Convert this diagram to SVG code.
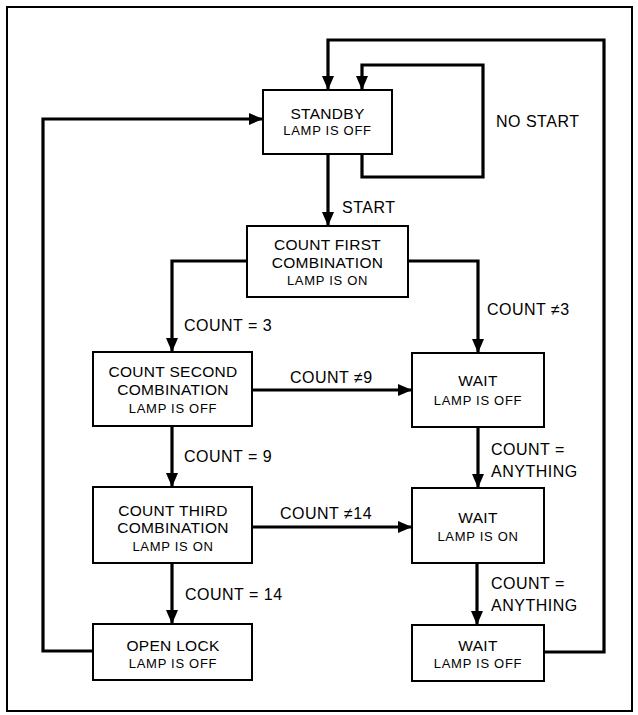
<svg xmlns="http://www.w3.org/2000/svg" width="638" height="715" viewBox="0 0 638 715">
<style>
.box{fill:#fff;stroke:#000;stroke-width:2}
.c{fill:none;stroke:#000;stroke-width:3.2;stroke-linejoin:miter}
.t{font-family:"Liberation Sans",Arial,sans-serif;font-size:15.5px;fill:#000;text-anchor:middle;letter-spacing:0.3px}
.s{font-family:"Liberation Sans",Arial,sans-serif;font-size:13px;fill:#000;text-anchor:middle;letter-spacing:0.7px}
.l{font-family:"Liberation Sans",Arial,sans-serif;font-size:16px;fill:#000;letter-spacing:0.5px}
</style>
<defs>
<marker id="a" markerUnits="userSpaceOnUse" markerWidth="14" markerHeight="12" refX="14" refY="6" orient="auto">
<path d="M0,0 L14,6 L0,12 z" fill="#000"/>
</marker>
</defs>
<rect x="0" y="0" width="638" height="715" fill="#fff"/>
<rect x="7" y="7" width="625" height="704" fill="none" stroke="#000" stroke-width="2"/>
<g id="connectors">
<polyline class="c" points="328,154 328,226" marker-end="url(#a)"/>
<polyline class="c" points="362,154 362,177 483,177 483,65 362,65 362,90" marker-end="url(#a)"/>
<polyline class="c" points="544,652 604,652 604,40 328,40 328,90" marker-end="url(#a)"/>
<polyline class="c" points="93,651 43,651 43,119 263,119" marker-end="url(#a)"/>
<polyline class="c" points="247,261 172,261 172,352" marker-end="url(#a)"/>
<polyline class="c" points="408,261 478,261 478,353" marker-end="url(#a)"/>
<polyline class="c" points="252,390 412,390" marker-end="url(#a)"/>
<polyline class="c" points="172,426 172,487" marker-end="url(#a)"/>
<polyline class="c" points="478,427 478,488" marker-end="url(#a)"/>
<polyline class="c" points="252,527 412,527" marker-end="url(#a)"/>
<polyline class="c" points="172,563 172,624" marker-end="url(#a)"/>
<polyline class="c" points="477,563 477,625" marker-end="url(#a)"/>
</g>
<g id="labels">
<text class="l" x="342" y="213">START</text>
<text class="l" x="496" y="127">NO START</text>
<text class="l" x="184" y="331">COUNT = 3</text>
<text class="l" x="487" y="315">COUNT ≠3</text>
<text class="l" x="290" y="383">COUNT ≠9</text>
<text class="l" x="184" y="462">COUNT = 9</text>
<text class="l" x="491" y="455">COUNT =</text>
<text class="l" x="491" y="477">ANYTHING</text>
<text class="l" x="280" y="519">COUNT ≠14</text>
<text class="l" x="185" y="600">COUNT = 14</text>
<text class="l" x="491" y="589">COUNT =</text>
<text class="l" x="491" y="611">ANYTHING</text>
</g>
<g id="standby">
<rect class="box" x="263" y="90" width="129" height="64"/>
<text class="t" x="327.5" y="119">STANDBY</text>
<text class="s" x="327.5" y="135">LAMP IS OFF</text>
</g>
<g id="count1">
<rect class="box" x="247" y="226" width="161" height="71"/>
<text class="t" x="327.5" y="250">COUNT FIRST</text>
<text class="t" x="327.5" y="268">COMBINATION</text>
<text class="s" x="327.5" y="285">LAMP IS ON</text>
</g>
<g id="count2">
<rect class="box" x="93" y="352" width="159" height="74"/>
<text class="t" x="173" y="377">COUNT SECOND</text>
<text class="t" x="173" y="395">COMBINATION</text>
<text class="s" x="173" y="413">LAMP IS OFF</text>
</g>
<g id="wait1">
<rect class="box" x="412" y="353" width="132" height="74"/>
<text class="t" x="478" y="386">WAIT</text>
<text class="s" x="478" y="405">LAMP IS OFF</text>
</g>
<g id="count3">
<rect class="box" x="93" y="487" width="159" height="76"/>
<text class="t" x="173" y="516">COUNT THIRD</text>
<text class="t" x="173" y="533">COMBINATION</text>
<text class="s" x="173" y="551">LAMP IS ON</text>
</g>
<g id="wait2">
<rect class="box" x="412" y="488" width="132" height="75"/>
<text class="t" x="478" y="523">WAIT</text>
<text class="s" x="478" y="541">LAMP IS ON</text>
</g>
<g id="openlock">
<rect class="box" x="93" y="624" width="159" height="56"/>
<text class="t" x="173" y="651">OPEN LOCK</text>
<text class="s" x="173" y="668">LAMP IS OFF</text>
</g>
<g id="wait3">
<rect class="box" x="412" y="625" width="132" height="56"/>
<text class="t" x="478" y="651">WAIT</text>
<text class="s" x="478" y="668">LAMP IS OFF</text>
</g>
</svg>
